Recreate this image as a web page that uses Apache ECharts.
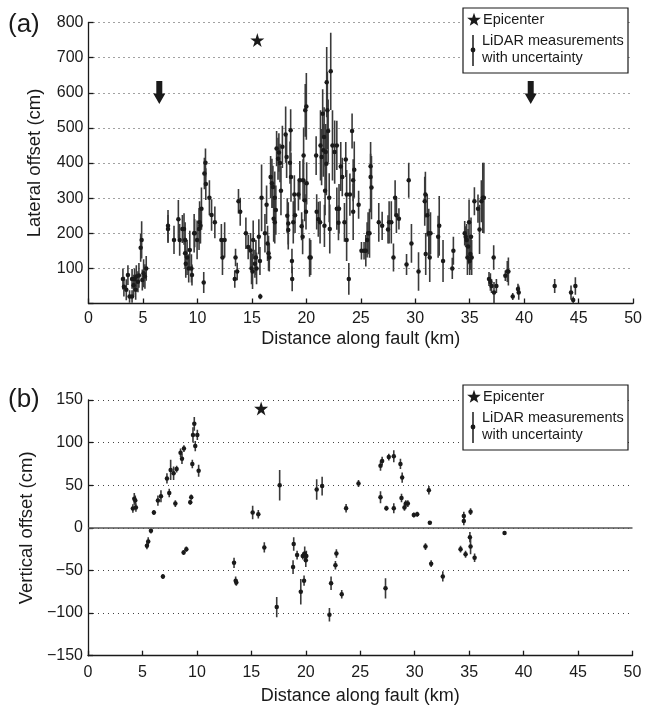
<!DOCTYPE html>
<html><head><meta charset="utf-8">
<script src="https://cdn.jsdelivr.net/npm/echarts@6/dist/echarts.min.js"></script>
<style>html,body{margin:0;padding:0;background:#fff}#c{width:645px;height:706px}</style>
</head><body><div id="c"></div>
<script>
// ---------- Panel (a): lateral offset ----------
const latKm = [3.16,3.25,3.47,3.62,3.77,4.0,4.0,4.14,4.23,4.33,4.39,4.54,4.63,4.79,4.88,4.94,5.06,5.18,5.3,
7.3,7.3,7.85,8.25,8.37,8.62,8.77,8.87,8.87,8.93,9.05,9.2,9.3,9.45,9.5,9.7,9.75,9.97,10.15,10.2,10.28,10.37,10.58,10.64,10.74,10.77,11.1,11.3,11.6,12.2,12.3,12.5,
13.43,13.5,13.65,13.77,13.93,14.45,14.66,14.88,14.97,15.06,15.12,15.28,15.37,15.43,15.64,15.74,15.77,15.89,16.2,16.35,16.44,16.6,16.53,
16.72,16.84,16.93,17.0,17.1,17.1,17.2,17.27,17.4,17.48,17.58,17.67,17.8,18.1,18.19,18.25,18.34,18.34,18.5,18.56,18.59,18.68,18.7,18.8,18.9,18.96,19.27,19.4,19.57,19.66,19.7,19.75,19.85,19.9,20.0,20.03,19.97,20.3,20.4,
20.9,20.95,21.1,21.26,21.3,21.4,21.5,21.56,21.63,21.66,21.72,21.78,21.84,21.87,21.93,22.0,22.1,22.15,22.24,22.4,22.6,22.8,22.8,22.95,23.0,23.16,23.3,23.5,23.62,23.7,23.7,23.9,24.0,24.2,24.3,24.3,24.4,24.8,
25.06,25.3,25.46,25.58,25.67,25.8,25.9,25.9,25.98,26.65,26.96,27.5,27.6,27.8,28.0,28.15,28.27,28.5,29.2,29.4,29.65,30.3,30.87,30.93,30.96,31.1,31.24,31.33,31.4,32.1,32.2,32.55,33.4,33.5,
34.54,34.63,34.72,34.79,34.85,34.94,35.0,35.06,35.12,35.18,35.43,35.76,35.9,36.07,36.2,36.3,36.77,36.9,37.0,37.2,37.23,37.45,38.27,38.45,38.55,38.95,39.43,39.5,42.8,44.3,44.5,44.7];
const latCm = [70,48,39,81,20,20,70,52,70,39,77,62,80,159,181,67,86,77,100,
221,212,181,240,181,212,212,181,143,113,131,100,152,100,81,200,200,181,212,231,221,270,60,370,401,340,301,252,231,181,131,181,
70,131,91,291,261,200,161,151,100,91,181,113,131,100,190,121,20,301,200,281,171,131,143,
360,342,332,241,301,231,266,441,412,430,400,321,446,481,417,250,228,209,401,493,360,121,70,231,310,251,310,351,220,190,351,421,294,550,561,342,261,131,131,
421,261,240,231,450,417,540,436,474,221,321,431,398,630,550,491,301,212,661,450,431,450,270,230,270,390,360,231,410,310,181,70,310,491,351,261,381,281,
150,150,150,181,200,200,391,360,330,231,221,211,231,231,131,301,251,241,111,351,171,91,291,310,141,251,200,131,200,190,221,121,100,150,
200,190,181,131,162,231,121,141,190,131,291,270,211,291,301,301,70,61,50,131,31,50,79,91,91,20,41,31,50,31,10,50];
const latErr = [30,28,30,28,18,18,28,30,30,28,32,30,35,40,53,30,40,35,35,
45,40,40,55,45,40,45,50,45,40,50,40,55,40,30,55,40,55,60,60,50,60,30,45,40,45,50,45,45,45,50,50,
25,25,25,35,40,45,35,50,45,50,55,40,50,45,50,40,8,95,55,55,50,40,50,
60,70,60,65,75,60,70,50,60,55,55,70,60,80,60,50,60,55,60,60,70,35,35,60,55,50,45,55,40,50,60,80,60,75,95,60,50,55,50,
55,50,50,60,100,80,70,75,85,60,70,80,90,100,110,90,70,70,110,100,90,70,60,50,70,70,55,55,50,70,60,45,60,50,60,80,80,40,
25,25,45,50,60,70,35,100,90,55,40,40,60,60,40,50,50,30,30,50,55,55,70,65,60,60,70,70,60,60,85,60,30,40,
35,30,45,50,50,65,40,45,55,50,40,40,70,60,100,100,20,25,20,35,30,20,15,30,40,10,15,20,20,20,10,25];
const latEpiKm = [15.5], latEpiCm = [750];
const arrowKm = [6.5, 40.6], arrowCm = [601, 601];

// ---------- Panel (b): vertical offset ----------
const vertKm = [4.12,4.25,4.34,4.4,5.41,5.53,5.78,6.05,6.42,6.7,6.88,7.25,7.46,7.59,7.86,8.02,8.14,8.5,8.63,8.81,8.78,9.03,9.39,9.48,9.58,9.64,9.76,9.85,10.04,10.16,
13.41,13.56,13.62,15.12,15.64,16.19,17.33,17.6,18.83,18.89,19.2,19.54,19.72,19.84,19.9,20.0,20.05,21.0,21.5,22.17,22.32,22.72,22.81,23.3,23.7,24.84,
26.86,26.86,27.01,27.62,28.08,28.69,28.85,27.4,28.08,27.32,28.79,29.06,29.18,29.37,29.92,30.23,30.99,31.3,31.39,31.51,32.58,34.21,34.51,34.51,34.67,35.07,35.13,35.13,35.5,38.25];
const vertCm = [22.7,34,32,24,-21,-16,-3.5,18,32,37,-57,58,41,68,64,28.5,69,88,81,93,-29,-25,30,36,75,109,122,96,109,67,
-41,-62,-64,18,16,-23,-93,50,-46,-19,-32,-75,-33,-62,-30,-38,-33,45,49,-102,-65,-44,-30,-78,23,52,
36,73,78.5,83,84,75,59,23,23,-71,35,24,28.5,28.5,15,16,-22,44,6,-42,-57,-25,14,8,-31,-11,-22,19,-35,-6];
const vertErr = [5,7,6,5,4,5,3,3,6,7,3,6,5,12,8,4,4,5,6,4,3,3,3,3,5,9,8,6,6,7,
6,5,4,8,5,6,12,18,8,8,5,15,4,6,8,8,6,12,11,8,8,5,5,5,5,4,
7,6,5,4,7,6,6,3,6,12,5,4,4,4,3,3,4,5,2,4,6,4,5,5,4,6,9,4,5,2];
const vertEpiKm = [15.9], vertEpiCm = [140];

const xTitle = 'Distance along fault (km)';
const yTitleA = 'Lateral offset (cm)';
const yTitleB = 'Vertical offset (cm)';

const FONT = 'Liberation Sans';
const INK = '#1a1a1a';
const STAR = 'path://M50,0 L61.2,34.5 L97.6,34.5 L68.2,55.9 L79.4,90.5 L50,69.1 L20.6,90.5 L31.8,55.9 L2.4,34.5 L38.8,34.5 Z';
const ARROW = 'path://M3,0 H9 V12 H12 L6,22 L0,12 H3 Z';

function pairs(xs, ys) { return xs.map((x, i) => [x, ys[i]]); }
function starPoints(cx, cy, ro, ri) {
  const pts = [];
  for (let k = 0; k < 10; k++) {
    const r = k % 2 === 0 ? ro : ri;
    const a = -Math.PI / 2 + k * Math.PI / 5;
    pts.push([cx + r * Math.cos(a), cy + r * Math.sin(a)]);
  }
  return pts;
}
function errSeries(idx, xs, ys, es) {
  return {
    type: 'custom', xAxisIndex: idx, yAxisIndex: idx, clip: true, z: 2,
    data: xs.map((x, i) => [x, ys[i], es[i]]),
    renderItem: function (params, api) {
      const x = api.value(0), y = api.value(1), e = api.value(2);
      const p1 = api.coord([x, y - e]), p2 = api.coord([x, y + e]);
      return { type: 'line', shape: { x1: p1[0], y1: p1[1], x2: p2[0], y2: p2[1] },
        style: { stroke: '#3a3a3a', lineWidth: 1.6 } };
    }
  };
}
function xAxisCfg(idx, gap, margin) {
  return {
    gridIndex: idx, type: 'value', min: 0, max: 50, interval: 5,
    name: xTitle, nameLocation: 'middle', nameGap: gap,
    nameTextStyle: { fontFamily: FONT, fontSize: 18, color: INK },
    axisLine: { onZero: false, lineStyle: { color: INK, width: 1.3 } },
    axisTick: { inside: true, length: 5, lineStyle: { color: INK, width: 1.3 } },
    axisLabel: { fontFamily: FONT, fontSize: 16, color: INK, margin: margin },
    splitLine: { show: false }
  };
}
function yAxisCfg(idx, min, max, interval, title, fmt) {
  return {
    gridIndex: idx, type: 'value', min: min, max: max, interval: interval,
    name: title, nameLocation: 'middle', nameGap: 44, nameRotate: 90,
    nameTextStyle: { fontFamily: FONT, fontSize: 18.5, color: INK },
    axisLine: { show: true, onZero: false, lineStyle: { color: INK, width: 1.3 } },
    axisTick: { show: true, inside: true, length: 5, lineStyle: { color: INK, width: 1.3 } },
    axisLabel: { fontFamily: FONT, fontSize: 16, color: INK, margin: 5, formatter: fmt },
    splitLine: { show: true, lineStyle: { type: [1, 4], color: '#444', width: 1 } }
  };
}
function legendGraphic(left, top) {
  return {
    type: 'group', x: left, y: top, z: 100, children: [
      { type: 'rect', z: 100, shape: { x: 0, y: 0, width: 165, height: 65 }, style: { fill: '#fff', stroke: INK, lineWidth: 1.2 } },
      { type: 'polygon', z: 101, shape: { points: starPoints(11, 12, 7.2, 2.9) }, style: { fill: INK } },
      { type: 'text', z: 101, x: 20, y: 12, style: { text: 'Epicenter', font: '14.5px "Liberation Sans"', fill: INK, verticalAlign: 'middle' } },
      { type: 'line', z: 101, shape: { x1: 10, y1: 27, x2: 10, y2: 58 }, style: { stroke: INK, lineWidth: 1.5 } },
      { type: 'circle', z: 101, shape: { cx: 10, cy: 42, r: 2.4 }, style: { fill: INK } },
      { type: 'text', z: 101, x: 19, y: 33, style: { text: 'LiDAR measurements', font: '14.5px "Liberation Sans"', fill: INK, verticalAlign: 'middle' } },
      { type: 'text', z: 101, x: 19, y: 50, style: { text: 'with uncertainty', font: '14.5px "Liberation Sans"', fill: INK, verticalAlign: 'middle' } }
    ]
  };
}

const solid = { color: INK, opacity: 1 };
const chart = echarts.init(document.getElementById('c'), null, { renderer: 'canvas' });
chart.setOption({
  animation: false,
  backgroundColor: '#fff',
  grid: [
    { left: 88.5, top: 22.5, width: 545, height: 281 },
    { left: 88, top: 400, width: 544.5, height: 255.7 }
  ],
  xAxis: [xAxisCfg(0, 27, 7), xAxisCfg(1, 31, 9)],
  yAxis: [
    yAxisCfg(0, 0, 800, 100, yTitleA, v => v === 0 ? '' : String(v)),
    yAxisCfg(1, -150, 150, 50, yTitleB, v => v < 0 ? '\u2212' + (-v) : String(v))
  ],
  series: [
    errSeries(0, latKm, latCm, latErr),
    { type: 'scatter', xAxisIndex: 0, yAxisIndex: 0, data: pairs(latKm, latCm), symbol: 'circle', symbolSize: 4.5, itemStyle: solid, z: 3 },
    { type: 'scatter', name: 'Epicenter', xAxisIndex: 0, yAxisIndex: 0, data: pairs(latEpiKm, latEpiCm), symbol: STAR, symbolSize: 14, itemStyle: solid, z: 4 },
    { type: 'scatter', xAxisIndex: 0, yAxisIndex: 0, data: pairs(arrowKm, arrowCm), symbol: ARROW, symbolSize: [12, 23], itemStyle: solid, z: 4 },
    errSeries(1, vertKm, vertCm, vertErr),
    { type: 'scatter', xAxisIndex: 1, yAxisIndex: 1, data: pairs(vertKm, vertCm), symbol: 'circle', symbolSize: 4.5, itemStyle: solid, z: 3,
      markLine: { silent: true, symbol: 'none', label: { show: false }, lineStyle: { color: '#555', width: 1.5, type: 'solid' }, data: [{ yAxis: 0 }] } },
    { type: 'scatter', name: 'Epicenter', xAxisIndex: 1, yAxisIndex: 1, data: pairs(vertEpiKm, vertEpiCm), symbol: STAR, symbolSize: 14, itemStyle: solid, z: 4 }
  ],
  graphic: [
    { type: 'text', left: 8, top: 12, style: { text: '(a)', font: '26px "Liberation Sans"', fill: INK } },
    { type: 'text', left: 8, top: 387, style: { text: '(b)', font: '26px "Liberation Sans"', fill: INK } },
    legendGraphic(463, 8),
    legendGraphic(463, 385)
  ]
});
</script>
</body></html>
